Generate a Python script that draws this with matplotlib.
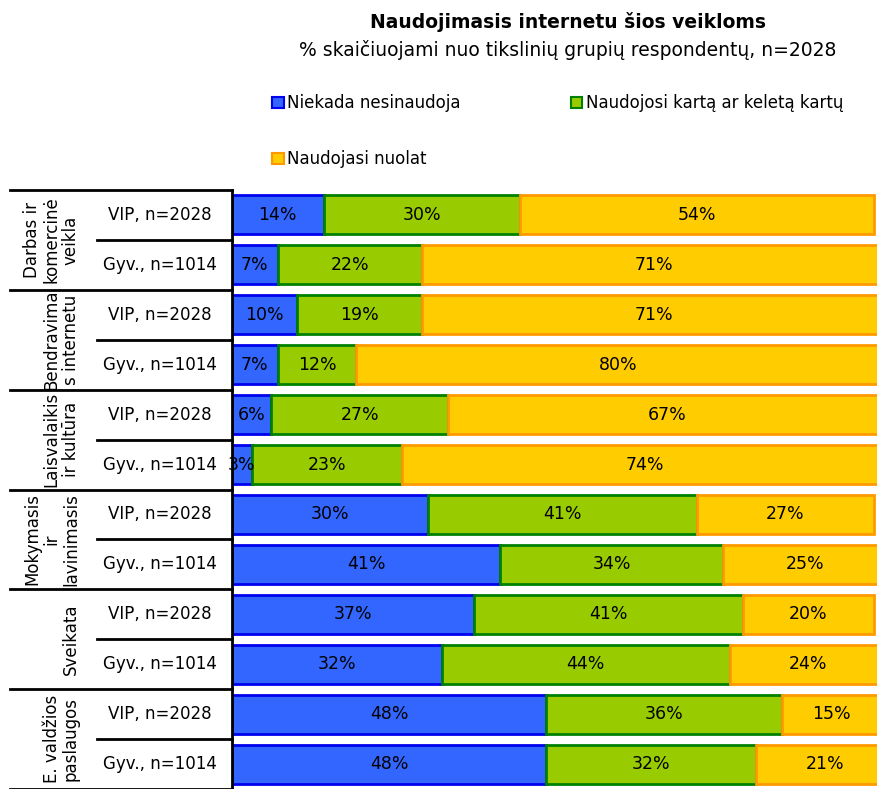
import matplotlib.pyplot as plt
import numpy as np
from matplotlib.patches import Patch
from matplotlib.lines import Line2D

groups = ["Darbas ir\nkomercinė\nveikla", "Bendravima\ns internetu", "Laisvalaikis\nir kultūra",
          "Mokymasis\nir\nlavinimasis", "Sveikata", "E. valdžios\npaslaugos"]
rows = ["VIP, n=2028", "Gyv., n=1014"] * 6
niekada = [14, 7, 10, 7, 6, 3, 30, 41, 37, 32, 48, 48]
karta = [30, 22, 19, 12, 27, 23, 41, 34, 41, 44, 36, 32]
nuolat = [54, 71, 71, 80, 67, 74, 27, 25, 20, 24, 15, 21]
series = ["Niekada nesinaudoja", "Naudojosi kartą ar keletą kartų", "Naudojasi nuolat"]

fills = ["#3366FF", "#99CC00", "#FFCC00"]
edges = ["#0000EE", "#008000", "#FF9900"]

plt.rcParams['font.family'] = ['DejaVu Sans']
fig = plt.figure(figsize=(8.77, 7.89), dpi=100)
ax = fig.add_axes([232 / 877, 0, 645 / 877, 599 / 789])

y = np.arange(len(rows))
left = np.zeros(len(rows))
for vals, fc, ec in zip([niekada, karta, nuolat], fills, edges):
    vals = np.array(vals)
    ax.barh(y, vals, left=left, height=0.78, color=fc, edgecolor=ec, linewidth=2)
    for yi, l, v in zip(y, left, vals):
        ax.text(l + v / 2, yi, f"{v}%", ha="center", va="center", fontsize=12.5)
    left += vals

ax.set_xlim(0, 98.5)
ax.set_ylim(11.5, -0.5)
ax.axis("off")

tr = ax.get_yaxis_transform()
x_out = (10 - 232) / 645
x_in = (97 - 232) / 645
for b in np.arange(-0.5, 12, 2):
    ax.add_line(Line2D([x_out, 0], [b, b], transform=tr, color="black", lw=2, clip_on=False))
for b in np.arange(0.5, 12, 2):
    ax.add_line(Line2D([x_in, 0], [b, b], transform=tr, color="black", lw=2, clip_on=False))
ax.add_line(Line2D([0, 0], [-0.5, 11.6], transform=tr, color="black", lw=2, clip_on=False))

for yi, r in zip(y, rows):
    ax.text((160 - 232) / 645, yi, r, transform=tr, ha="center", va="center", fontsize=12)
for i, g in enumerate(groups):
    ax.text((80 - 232) / 645, 2 * i + 0.5, g, transform=tr, rotation=90, ha="right",
            va="center", fontsize=12, multialignment="center", linespacing=1.1)

fig.text(568 / 877, 1 - 22 / 789, "Naudojimasis internetu šios veikloms", ha="center",
         va="center", fontsize=13.5, fontweight="bold")
fig.text(568 / 877, 1 - 50 / 789, "% skaičiuojami nuo tikslinių grupių respondentų, n=2028",
         ha="center", va="center", fontsize=13.5)

handles = [Patch(facecolor=fc, edgecolor=ec, linewidth=1.5) for fc, ec in zip(fills, edges)]
order = [0, 2, 1]
fig.legend([handles[i] for i in order], [series[i] for i in order], ncol=2, loc="upper left",
           bbox_to_anchor=(264 / 877, 1 - 86 / 789), frameon=False, fontsize=12,
           handlelength=0.7, handleheight=0.7, handletextpad=0.2,
           labelspacing=2.28, columnspacing=6.6, borderpad=0)

fig.savefig("out.png", dpi=100)
